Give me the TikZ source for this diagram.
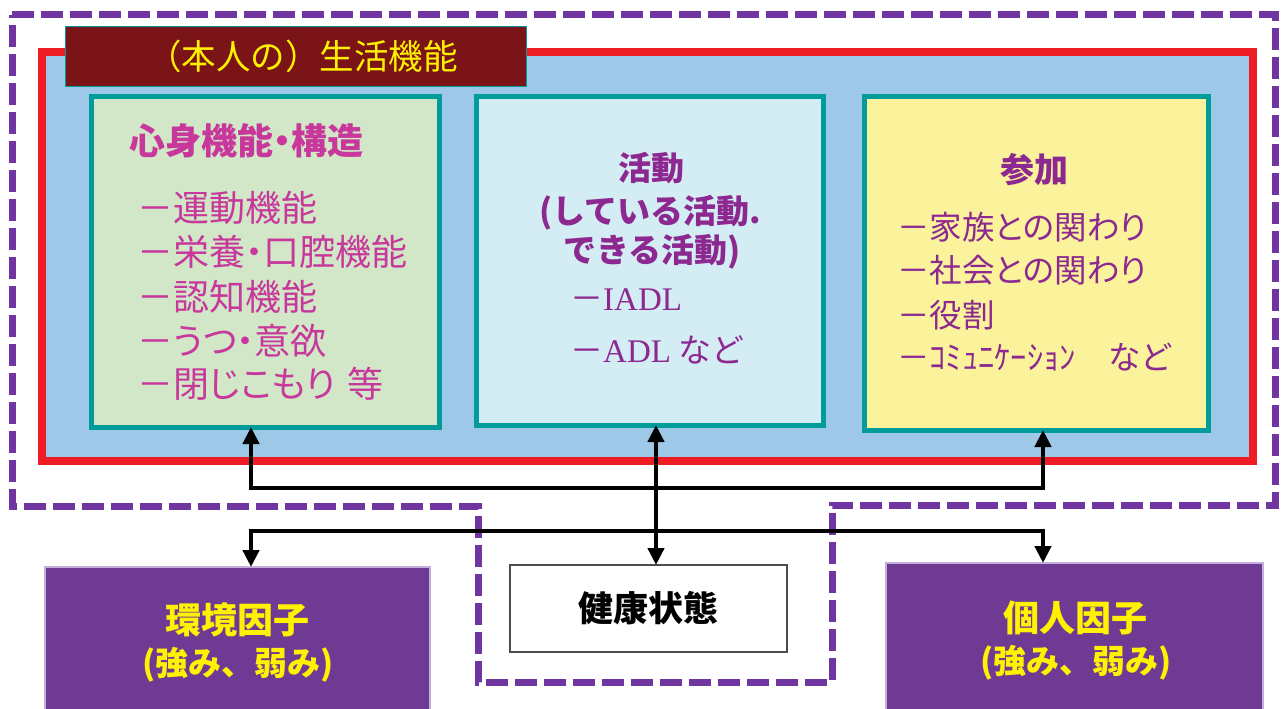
\documentclass[tikz,border=0pt]{standalone}
\usepackage{fontspec}
\newfontfamily\jp{Noto Sans CJK JP}
\newfontfamily\jpp[RawFeature=+palt]{Noto Sans CJK JP}
\newfontfamily\lser{Liberation Serif}
\usetikzlibrary{arrows.meta}
\definecolor{dashpurple}{HTML}{7035A0}
\definecolor{redline}{HTML}{EE1C24}
\definecolor{lblue}{HTML}{9DC8E8}
\definecolor{teal2}{HTML}{009B9B}
\definecolor{fillA}{HTML}{D1E7C7}
\definecolor{fillB}{HTML}{D4EDF4}
\definecolor{fillC}{HTML}{FAF39B}
\definecolor{titlered}{HTML}{7B1416}
\definecolor{ytext}{HTML}{FFF200}
\definecolor{magtext}{HTML}{C8379B}
\definecolor{purtext}{HTML}{8C2890}
\definecolor{factor}{HTML}{6F3A94}
\definecolor{factorEdge}{HTML}{C2AEDA}
\begin{document}
\begin{tikzpicture}[x=1pt,y=-1pt,
  outerdash/.style={draw=dashpurple,line width=7pt,dash pattern=on 22pt off 7pt},
  funcbox/.style={draw=teal2,line width=5pt,inner sep=0pt,outer sep=0pt,rectangle},
  factorbox/.style={draw=factorEdge,fill=factor,line width=2pt,inner sep=0pt,outer sep=0pt,rectangle},
  tx/.style={inner sep=0pt},
  itemA/.style={tx,anchor=west,text=magtext,font=\jpp\fontsize{36}{42}\selectfont},
  itemC/.style={tx,anchor=west,text=purtext,font=\jpp\fontsize{32.5}{40}\selectfont},
  itemB/.style={tx,anchor=west,text=purtext,font=\jp\fontsize{33}{40}\selectfont},
  headB/.style={tx,text=purtext,font=\jp\bfseries\fontsize{33}{40}\selectfont},
  facttext/.style={tx,text=ytext,font=\jp\bfseries\fontsize{36}{42}\selectfont},
  facttextb/.style={tx,text=ytext,font=\jp\bfseries\fontsize{33}{40}\selectfont},
  conn/.style={draw=black,line width=4.5pt,line join=miter,{Triangle[length=17pt,width=16pt]}-{Triangle[length=17pt,width=16pt]}}
]
\useasboundingbox (0,0) rectangle (1282,709);
\fill[white] (0,0) rectangle (1282,709);

% outer dashed boundary
\draw[outerdash] (12,15) -- (1275,15) -- (1275,505) -- (832,505) -- (832,682) -- (478,682) -- (478,506) -- (12,506) -- cycle;

% red frame with blue fill
\draw[draw=redline,fill=lblue,line width=8pt] (42,52) rectangle (1253,461);

% title
\node[draw=teal2,line width=1pt,fill=titlered,minimum width=461pt,minimum height=59pt,inner sep=0pt,
      text=ytext,font=\jp\fontsize{34.5}{40}\selectfont] (title) at (295.5,56.5) {\hspace*{14pt}（本人の）生活機能};

% three function boxes
\node[funcbox,fill=fillA,minimum width=348.5pt,minimum height=331pt] (b1) at (265.25,261.5) {};
\node[funcbox,fill=fillB,minimum width=347pt,minimum height=329pt] (b2) at (649.5,260.5) {};
\node[funcbox,fill=fillC,minimum width=344.5pt,minimum height=334pt] (b3) at (1036.25,263) {};

% box 1 text
\node[tx,anchor=west,text=magtext,font=\jpp\bfseries\fontsize{36}{42}\selectfont] (h1) at (129,141) {心身機能・構造};
\node[itemA] (a1) at (137,208) {－運動機能};
\node[itemA] (a2) at (137,252) {－栄養・口腔機能};
\node[itemA] (a3) at (137,297) {－認知機能};
\node[itemA] (a4) at (137,341) {－うつ・意欲};
\node[itemA] (a5) at (137,384) {－閉じこもり\hspace{12pt}等};

% box 2 text
\node[headB] (h2a) at (651,168) {活動};
\node[headB] (h2b) at (650,213) {(している活動.};
\node[headB] (h2c) at (652,252) {できる活動)};
\node[itemB] (c1) at (570,300) {－{\lser IADL}};
\node[itemB] (c2) at (570,350) {－{\lser ADL} など};

% box 3 text
\node[headB,font=\jp\bfseries\fontsize{34}{40}\selectfont] (h3) at (1034,170) {参加};
\node[itemC] (d1) at (897,227) {－家族との関わり};
\node[itemC] (d2) at (897,270) {－社会との関わり};
\node[itemC] (d3) at (897,315) {－役割};
\node[itemC] (d4) at (897,357) {－ｺﾐｭﾆｹｰｼｮﾝ　など};

% bottom boxes
\node[factorbox,minimum width=385pt,minimum height=153pt] (env) at (237.5,643.5) {};
\node[factorbox,minimum width=377pt,minimum height=157pt] (pers) at (1074.5,641.5) {};
\node[draw=black!70,line width=1.5pt,fill=white,minimum width=277pt,minimum height=87pt,inner sep=0pt,outer sep=0pt,
      font=\jp\bfseries\fontsize{35}{40}\selectfont] (hs) at (648.5,608.5) {健康状態};

\node[facttext] (e1) at (237,620) {環境因子};
\node[facttextb] (e2) at (238,665) {(強み、弱み)};
\node[facttext] (p1) at (1075,618) {個人因子};
\node[facttextb] (p2) at (1076,663) {(強み、弱み)};

% connectors
\coordinate (xa) at (251,0);
\coordinate (xb) at (1043,0);
\coordinate (xc) at (656,0);
\coordinate (ya) at (0,488);
\coordinate (yb) at (0,531);
\draw[conn] (b1.south -| xa) -- (xa |- ya) -- (xb |- ya) -- (b3.south -| xb);
\draw[conn] (env.north -| xa) -- (xa |- yb) -- (xb |- yb) -- (pers.north -| xb);
\draw[conn] (b2.south -| xc) -- (hs.north -| xc);
\end{tikzpicture}
\end{document}
